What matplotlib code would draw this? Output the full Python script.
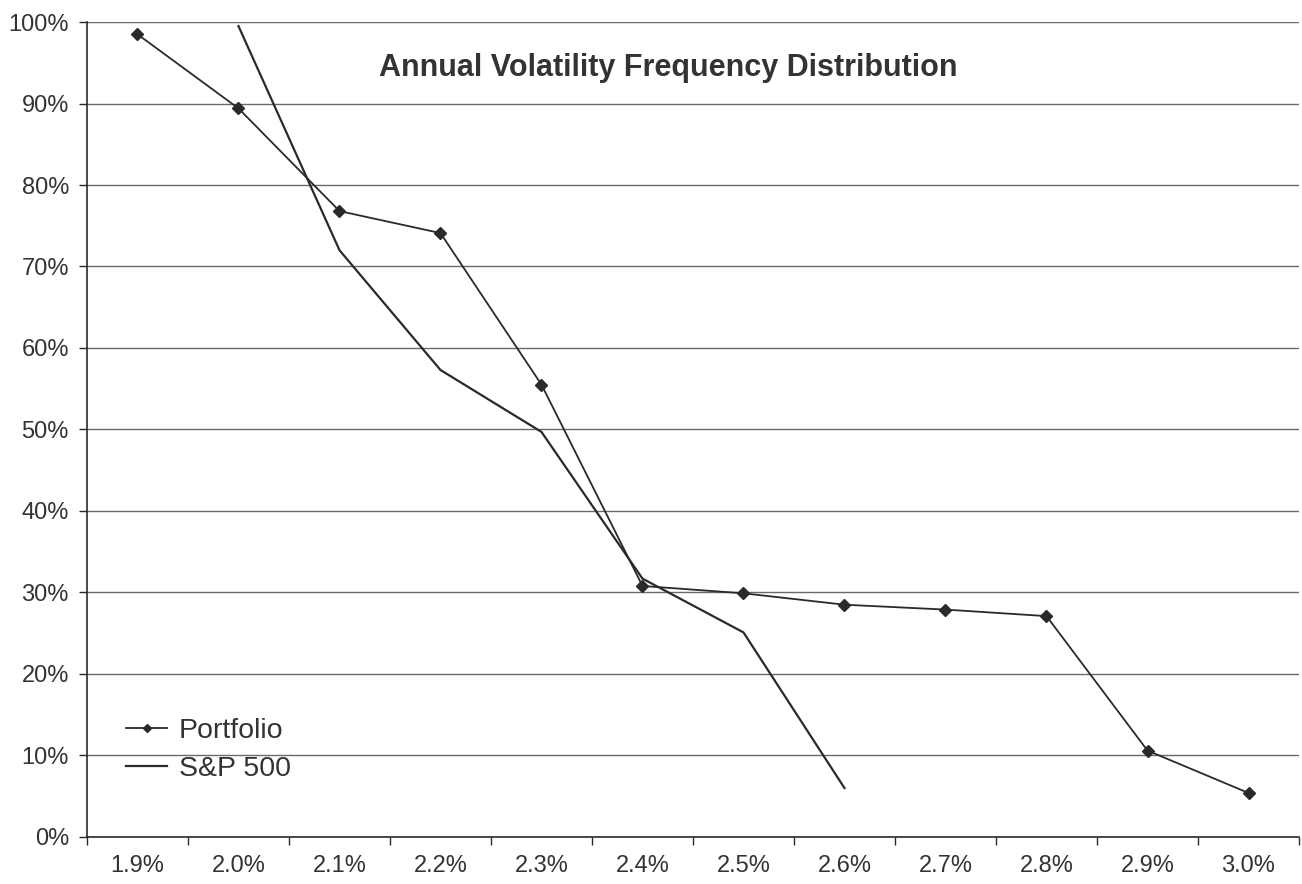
import matplotlib.pyplot as plt
from matplotlib.ticker import FixedLocator, FuncFormatter

plt.rcParams["font.family"] = ["Liberation Sans", "DejaVu Sans"]

categories = ["1.9%", "2.0%", "2.1%", "2.2%", "2.3%", "2.4%",
              "2.5%", "2.6%", "2.7%", "2.8%", "2.9%", "3.0%"]
portfolio = [98.5, 89.4, 76.8, 74.1, 55.5, 30.8, 29.9, 28.5, 27.9, 27.1, 10.6, 5.4]
sp500 = [None, 99.5, 72.0, 57.3, 49.7, 31.7, 25.1, 6.0, None, None, None, None]

xs = list(range(len(categories)))
sp_x = [x for x, v in zip(xs, sp500) if v is not None]
sp_y = [v for v in sp500 if v is not None]

fig = plt.figure(figsize=(13.02, 8.84), dpi=100)
ax = fig.add_axes([0.0668, 0.0532, 0.9309, 0.9219])

ink = "#2a2a2a"
ax.plot(xs, portfolio, color=ink, lw=1.3, marker="D", ms=6, mfc=ink, mec=ink,
        label="Portfolio", zorder=3)
ax.plot(sp_x, sp_y, color=ink, lw=1.6, label="S&P 500", zorder=3)

ax.set_xlim(-0.5, len(categories) - 0.5)
ax.set_ylim(0, 100)
ax.set_yticks(range(0, 101, 10))
ax.yaxis.set_major_formatter(FuncFormatter(lambda v, p: f"{int(v)}%"))
ax.set_xticks(xs)
ax.set_xticklabels(categories)
ax.xaxis.set_minor_locator(FixedLocator([x - 0.5 for x in range(len(categories) + 1)]))
ax.tick_params(axis="x", which="major", length=0, pad=13, labelsize=17, labelcolor="#333333")
ax.tick_params(axis="x", which="minor", length=6, width=1, color=ink, direction="out")
ax.tick_params(axis="y", length=6, width=1, color=ink, labelsize=17, labelcolor="#333333", pad=7)

ax.grid(axis="y", color="#6a6a6a", lw=1)
ax.set_axisbelow(True)
for side in ["top", "right"]:
    ax.spines[side].set_visible(False)
ax.spines["left"].set_color(ink)
ax.spines["bottom"].set_color(ink)
ax.spines["left"].set_linewidth(1.2)
ax.spines["bottom"].set_linewidth(1.2)

ax.text(0.480, 0.9436, "Annual Volatility Frequency Distribution", transform=ax.transAxes,
        ha="center", va="center", fontsize=22, fontweight="bold", color="#333333")

leg = ax.legend(loc="upper left", bbox_to_anchor=(0.011, 0.178), frameon=False,
                fontsize=20.5, handlelength=1.45, handletextpad=0.4, labelspacing=0.45,
                markerscale=0.7)
for t in leg.get_texts():
    t.set_color("#333333")

fig.savefig("out.png", dpi=100, facecolor="white")
